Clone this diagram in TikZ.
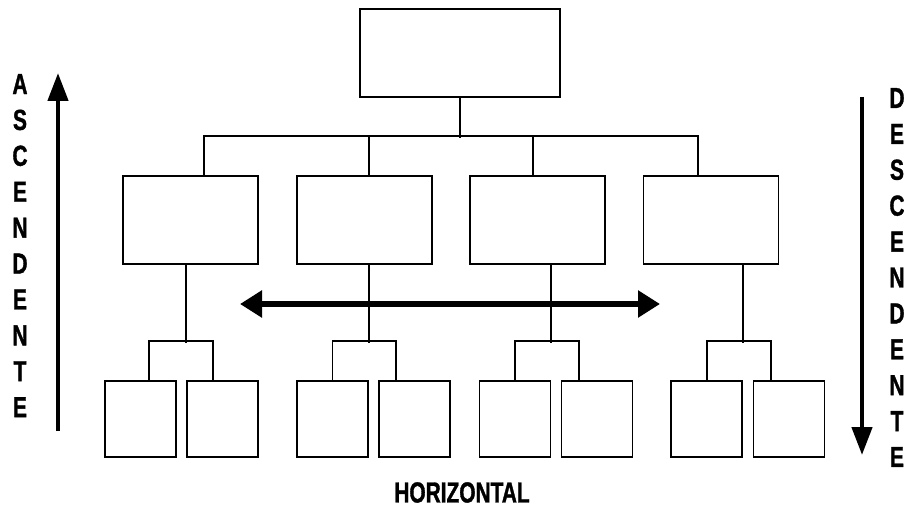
\documentclass[tikz,border=0pt]{standalone}
\usepackage{fontspec}
\newfontfamily\capsfont[FakeStretch=0.72,FakeBold=1.2]{Liberation Sans}
\usetikzlibrary{arrows.meta}

\tikzset{
  orgbox/.style={draw, line width=1.8pt, inner sep=0pt},
  bigbox/.style={orgbox, minimum width=200pt, minimum height=88pt},
  midbox/.style={orgbox, minimum width=135pt, minimum height=88pt},
  leafbox/.style={orgbox, minimum width=71pt, minimum height=76pt},
  link/.style={line width=1.8pt},
  flow/.style={line width=4.5pt, -{Triangle[length=28pt,width=20pt]}},
  twoway/.style={line width=5.5pt, {Triangle[length=22pt,width=26pt]}-{Triangle[length=22pt,width=26pt]}},
  caps/.style={font=\capsfont\bfseries\fontsize{29}{35.9}\selectfont, inner sep=0pt, align=center}
}

\begin{document}
\begin{tikzpicture}[x=1pt,y=-1pt]
\useasboundingbox (0,0) rectangle (904,508);
% boxes
\node[bigbox] (top) at (460,53) {};
\node[midbox] (m1) at (190.5,220) {};
\node[midbox] (m2) at (364.5,220) {};
\node[midbox] (m3) at (537.5,220) {};
\node[midbox] (m4) at (711,220) {};
\node[leafbox] (b1) at (140.5,419) {};
\node[leafbox] (b2) at (222.5,419) {};
\node[leafbox] (b3) at (332.5,419) {};
\node[leafbox] (b4) at (414.5,419) {};
\node[leafbox] (b5) at (515,419) {};
\node[leafbox] (b6) at (597,419) {};
\node[leafbox] (b7) at (706.5,419) {};
\node[leafbox] (b8) at (789,419) {};
% top level
\draw[link] (top.south) -- ++(0,40);
\draw[link] ([xshift=13.5pt]m1.north) -- ++(0,-39) -| ([xshift=-13pt]m4.north);
\draw[link] ([xshift=4.5pt]m2.north) -- ++(0,-39);
\draw[link] ([xshift=-4.5pt]m3.north) -- ++(0,-39);
% lower level
\draw[link] ([xshift=-4.5pt]m1.south) -- ++(0,78);
\draw[link] ([xshift=8.5pt]b1.north) -- ++(0,-39) -| ([xshift=-9.5pt]b2.north);
\draw[link] ([xshift=4.5pt]m2.south) -- ++(0,78);
\draw[link] (b3.north) -- ++(0,-39) -| ([xshift=-18.5pt]b4.north);
\draw[link] ([xshift=13.5pt]m3.south) -- ++(0,78);
\draw[link] (b5.north) -- ++(0,-39) -| ([xshift=-18pt]b6.north);
\draw[link] ([xshift=32pt]m4.south) -- ++(0,78);
\draw[link] ([xshift=0.5pt]b7.north) -- ++(0,-39) -| ([xshift=-18pt]b8.north);
% arrows
\coordinate (upfoot) at (58,431);
\coordinate (uptip) at (58,73);
\coordinate (downfoot) at (862,97);
\coordinate (downtip) at (862,455);
\coordinate (leftend) at (240,304);
\coordinate (rightend) at (660,304);
\draw[flow] (upfoot) -- (uptip);
\draw[flow] (downfoot) -- (downtip);
\draw[twoway] (leftend) -- (rightend);
% texts
\node[caps] (up) at (20,245.6) {A\\S\\C\\E\\N\\D\\E\\N\\T\\E};
\node[caps] (down) at (897,277.5) {D\\E\\S\\C\\E\\N\\D\\E\\N\\T\\E};
\node[caps] (across) at (462,492.5) {HORIZONTAL};
\end{tikzpicture}
\end{document}
